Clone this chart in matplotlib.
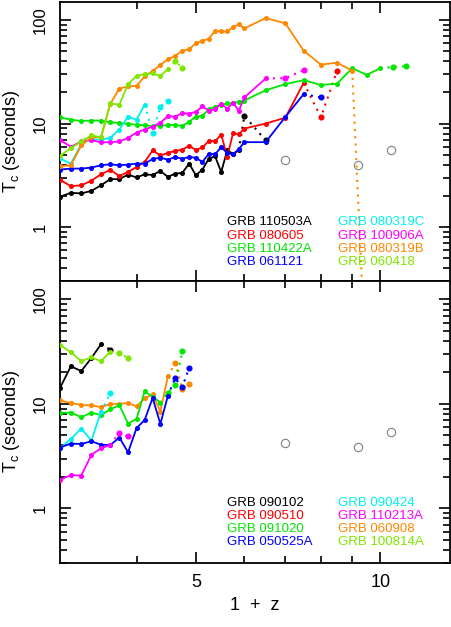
import matplotlib
matplotlib.use('Agg')
import matplotlib.pyplot as plt
from matplotlib.ticker import FixedLocator, NullFormatter, FuncFormatter, LogLocator

plt.rcParams['font.family'] = ['Liberation Sans', 'DejaVu Sans']
plt.rcParams['mathtext.fontset'] = 'custom'
plt.rcParams['mathtext.rm'] = 'Liberation Sans'
plt.rcParams['mathtext.it'] = 'Liberation Sans'

# ---------------- colours ----------------
C_BLACK = 'black'
C_RED = '#ff0000'
C_GREEN = '#00e600'
C_BLUE = '#0000ff'
C_CYAN = '#00f0f0'
C_MAGENTA = '#ff00ff'
C_ORANGE = '#ff8800'
C_LGREEN = '#80e600'

# ---------------- data: top panel ----------------
x_fine = [3.0, 3.125, 3.25, 3.375, 3.5, 3.625, 3.75, 3.875, 4.0, 4.125, 4.25, 4.375,
          4.5, 4.625, 4.75, 4.875, 5.0, 5.125, 5.25, 5.375, 5.5, 5.625, 5.75, 5.875, 6.0]
x_coarse = [6.5, 7.0, 7.5, 8.0, 8.5, 9.0, 9.5, 10.0]

# GRB 110503A
t_black_x = x_fine[:24]
t_black_y = [1.96, 2.14, 2.11, 2.23, 2.53, 2.90, 2.90, 3.21, 3.01, 3.23, 3.18, 3.48,
             3.05, 3.28, 3.33, 4.10, 3.16, 3.59, 4.58, 4.82, 3.40, 5.50, 5.11, 5.50]
t_black_dx = [5.875, 6.0, 6.5]
t_black_dy = [5.50, 11.9, 6.87]

# GRB 080605
t_red_x = x_fine + [6.5, 7.0, 7.5]
t_red_y = [2.86, 2.48, 2.53, 2.80, 3.23, 3.57, 3.11, 3.40, 3.80, 4.25, 5.50, 4.92,
           5.20, 5.44, 5.58, 6.10, 5.56, 5.88, 6.79, 6.76, 7.84, 4.76, 8.07, 7.89, 8.95,
           10.0, 11.4, 24.8]
t_red_dx = [7.5, 8.0, 8.5]
t_red_dy = [24.8, 11.5, 32.3]

# GRB 110422A
t_green_x = x_fine + x_coarse
t_green_y = [11.5, 10.9, 10.6, 10.7, 10.7, 10.3, 10.1, 9.95, 9.74, 9.63, 9.46, 9.57,
             9.63, 9.72, 9.50, 10.4, 11.7, 11.9, 13.7, 14.5, 15.2, 15.7, 15.7, 16.3, 16.7,
             21.0, 24.1, 26.3, 23.6, 24.3, 34.3, 29.6, 34.2]
t_green_dx = [10.0, 10.5, 11.0]
t_green_dy = [34.2, 35.3, 35.9]

# GRB 061121
t_blue_x = x_fine + [6.5, 7.0, 7.5]
t_blue_y = [3.59, 3.67, 3.67, 3.75, 3.95, 4.04, 3.95, 4.01, 4.10, 4.10, 4.54, 4.68,
            4.48, 4.74, 4.58, 4.74, 4.68, 4.25, 5.11, 5.04, 5.92, 5.20, 5.04, 5.66, 6.61,
            6.61, 11.6, 19.3]
t_blue_dx = [7.5, 8.0]
t_blue_dy = [19.3, 17.9]

# GRB 080319C
t_cyan_x = x_fine[:10]
t_cyan_y = [4.61, 4.08, 6.35, 7.10, 6.94, 7.29, 8.76, 11.7, 10.9, 15.2]
t_cyan_dx = [4.125, 4.25, 4.375, 4.5]
t_cyan_dy = [15.2, 8.10, 14.6, 16.4]

# GRB 100906A
t_mag_x = x_fine + [6.5]
t_mag_y = [6.94, 5.97, 6.71, 6.94, 6.57, 6.61, 6.71, 7.26, 8.19, 8.76, 9.36, 10.2,
           11.8, 11.7, 12.6, 12.5, 13.0, 14.7, 13.3, 13.8, 15.6, 13.9, 15.9, 13.3, 17.9,
           27.3]
t_mag_dx = [6.5, 7.0, 7.5]
t_mag_dy = [27.3, 27.5, 32.8]

# GRB 080319B
t_orange_x = x_fine + [6.5, 7.0, 7.5, 8.0, 8.5, 9.0]
t_orange_y = [3.86, 3.95, 6.14, 7.38, 7.38, 15.6, 21.8, 22.9, 23.2, 28.6, 32.3, 36.9,
              41.9, 45.1, 50.7, 52.3, 60.1, 62.8, 66.4, 78.9, 77.8, 77.8, 85.7, 91.0, 83.2,
              105.0, 93.1, 50.7, 37.2, 38.8, 32.5]
t_orange_dx = [9.0, 9.5]
t_orange_dy = [32.5, 0.03]

# GRB 060418
t_lg_x = x_fine[:13]
t_lg_y = [4.87, 5.81, 6.71, 7.67, 7.38, 15.7, 15.2, 24.1, 28.9, 30.1, 30.6, 28.9, 33.6]
t_lg_dx = [4.5, 4.625, 4.75]
t_lg_dy = [33.6, 39.9, 34.8]

# grey open circles
ref_x = [7.0, 9.2, 10.4]
ref_top_y = [4.4, 4.0, 5.5]
ref_bot_y = [4.25, 3.9, 5.4]

# ---------------- data: bottom panel ----------------
b_black_x = x_fine[:5]
b_black_y = [14.2, 22.9, 20.6, 27.4, 37.2]
b_black_dx = [3.5, 3.625]
b_black_dy = [37.2, 33.0]

b_lg_x = x_fine[:6]
b_lg_y = [36.6, 31.3, 25.6, 27.9, 25.6, 31.6]
b_lg_dx = [3.625, 3.75, 3.875]
b_lg_dy = [31.6, 30.8, 27.4]

b_orange_x = x_fine[:13]
b_orange_y = [10.8, 10.2, 9.78, 9.65, 9.33, 9.98, 10.0, 10.2, 9.46, 11.3, 12.3, 8.45, 18.3]
b_orange_dx = [4.5, 4.625, 4.75, 4.875]
b_orange_dy = [18.3, 24.6, 14.0, 15.6]

b_green_x = x_fine[:12]
b_green_y = [8.18, 8.27, 7.45, 8.27, 7.79, 8.89, 9.72, 6.49, 7.18, 13.2, 11.7, 10.3]
b_green_dx = [4.375, 4.5, 4.625, 4.75]
b_green_dy = [10.3, 12.8, 15.0, 31.9]

b_cyan_x = x_fine[:5]
b_cyan_y = [3.76, 4.61, 5.81, 4.45, 8.38]
b_cyan_dx = [3.5, 3.625]
b_cyan_dy = [8.38, 12.7]

b_blue_x = x_fine[:13]
b_blue_y = [3.82, 4.17, 4.13, 4.39, 4.06, 4.04, 4.76, 3.44, 5.85, 7.02, 11.4, 6.43, 11.9]
b_blue_dx = [4.5, 4.625, 4.75, 4.875]
b_blue_dy = [11.9, 17.6, 14.5, 22.0]

b_mag_x = x_fine[:6]
b_mag_y = [1.88, 2.08, 2.06, 3.25, 3.76, 4.04]
b_mag_dx = [3.625, 3.75, 3.875]
b_mag_dy = [4.04, 5.29, 4.88]

# legend labels
top_left_labels = ['GRB 110503A', 'GRB 080605', 'GRB 110422A', 'GRB 061121']
top_left_colors = [C_BLACK, C_RED, C_GREEN, C_BLUE]
top_right_labels = ['GRB 080319C', 'GRB 100906A', 'GRB 080319B', 'GRB 060418']
top_right_colors = [C_CYAN, C_MAGENTA, C_ORANGE, C_LGREEN]
bot_left_labels = ['GRB 090102', 'GRB 090510', 'GRB 091020', 'GRB 050525A']
bot_left_colors = [C_BLACK, C_RED, C_GREEN, C_BLUE]
bot_right_labels = ['GRB 090424', 'GRB 110213A', 'GRB 060908', 'GRB 100814A']
bot_right_colors = [C_CYAN, C_MAGENTA, C_ORANGE, C_LGREEN]

# ---------------- figure ----------------
W, H = 452, 627
fig = plt.figure(figsize=(W / 100, H / 100), dpi=100)
ax1 = fig.add_axes([60 / W, 1 - 281 / H, 390 / W, 279 / H])
ax2 = fig.add_axes([60 / W, 1 - 563 / H, 390 / W, 282 / H])


def style(ax, show_x):
    ax.set_xscale('log')
    ax.set_yscale('log')
    ax.set_xlim(3, 13)
    ax.set_ylim(0.3, 150)
    ax.xaxis.set_major_locator(FixedLocator([5, 10]))
    ax.xaxis.set_minor_locator(FixedLocator([4, 6, 7, 8, 9]))
    ax.xaxis.set_minor_formatter(NullFormatter())
    if show_x:
        ax.xaxis.set_major_formatter(FuncFormatter(lambda v, p: f'{v:g}'))
    else:
        ax.xaxis.set_major_formatter(NullFormatter())
    ax.yaxis.set_major_locator(FixedLocator([1, 10, 100]))
    ax.yaxis.set_major_formatter(FuncFormatter(lambda v, p: f'{v:g}'))
    ax.yaxis.set_minor_locator(LogLocator(base=10, subs=[2, 3, 4, 5, 6, 7, 8, 9]))
    ax.yaxis.set_minor_formatter(NullFormatter())
    ax.tick_params(which='both', direction='in', top=True, right=True, width=1.2,
                   color='black')
    ax.tick_params(which='major', length=8)
    ax.tick_params(which='minor', length=5)
    ax.tick_params(axis='y', which='major', labelsize=12, pad=9)
    ax.tick_params(axis='x', which='major', labelsize=13, pad=8)
    for lab in ax.get_yticklabels():
        lab.set_rotation(90)
        lab.set_va('center')
        lab.set_ha('right')
    for s in ax.spines.values():
        s.set_linewidth(1.3)
    ax.set_ylabel(r'T$_{\rm c}$ (seconds)', fontsize=13)
    ax.yaxis.set_label_coords(-0.098, 0.5)


def draw(ax, xs, ys, xd, yd, color):
    ax.plot(xs, ys, '-', color=color, lw=1.3, marker='o', ms=2.6, mec=color,
            mfc=color, zorder=3, clip_on=True)
    if xd:
        ax.plot(xd, yd, linestyle=(0, (1, 2.5)), color=color, lw=1.5, zorder=3)
        ax.plot(xd[1:], yd[1:], 'o', color=color, ms=3.4, zorder=3, lw=0)


style(ax1, False)
style(ax2, True)

draw(ax1, t_black_x, t_black_y, t_black_dx, t_black_dy, C_BLACK)
draw(ax1, t_red_x, t_red_y, t_red_dx, t_red_dy, C_RED)
draw(ax1, t_green_x, t_green_y, t_green_dx, t_green_dy, C_GREEN)
draw(ax1, t_blue_x, t_blue_y, t_blue_dx, t_blue_dy, C_BLUE)
draw(ax1, t_cyan_x, t_cyan_y, t_cyan_dx, t_cyan_dy, C_CYAN)
draw(ax1, t_mag_x, t_mag_y, t_mag_dx, t_mag_dy, C_MAGENTA)
draw(ax1, t_orange_x, t_orange_y, t_orange_dx, t_orange_dy, C_ORANGE)
draw(ax1, t_lg_x, t_lg_y, t_lg_dx, t_lg_dy, C_LGREEN)
ax1.plot(ref_x, ref_top_y, 'o', mfc='none', mec='#808080', ms=6, mew=0.8, zorder=2)

draw(ax2, b_black_x, b_black_y, b_black_dx, b_black_dy, C_BLACK)
draw(ax2, b_lg_x, b_lg_y, b_lg_dx, b_lg_dy, C_LGREEN)
draw(ax2, b_orange_x, b_orange_y, b_orange_dx, b_orange_dy, C_ORANGE)
draw(ax2, b_green_x, b_green_y, b_green_dx, b_green_dy, C_GREEN)
draw(ax2, b_cyan_x, b_cyan_y, b_cyan_dx, b_cyan_dy, C_CYAN)
draw(ax2, b_blue_x, b_blue_y, b_blue_dx, b_blue_dy, C_BLUE)
draw(ax2, b_mag_x, b_mag_y, b_mag_dx, b_mag_dy, C_MAGENTA)
ax2.plot(ref_x, ref_bot_y, 'o', mfc='none', mec='#808080', ms=6, mew=0.8, zorder=2)


def legend_text(ax, labels, colors, xfrac, y0, dy):
    for i, (lab, col) in enumerate(zip(labels, colors)):
        ax.text(xfrac, y0 - i * dy, lab, transform=ax.transAxes, color=col,
                fontsize=9.5, va='center', ha='left')


legend_text(ax1, top_left_labels, top_left_colors, 0.428, 0.2097, 0.0476)
legend_text(ax1, top_right_labels, top_right_colors, 0.713, 0.2097, 0.0476)
legend_text(ax2, bot_left_labels, bot_left_colors, 0.428, 0.2117, 0.0461)
legend_text(ax2, bot_right_labels, bot_right_colors, 0.713, 0.2117, 0.0461)

fig.text(255 / W, 1 - 605 / H, '1  +  z', ha='center', va='center', fontsize=13)

fig.savefig('out.png', dpi=100)
